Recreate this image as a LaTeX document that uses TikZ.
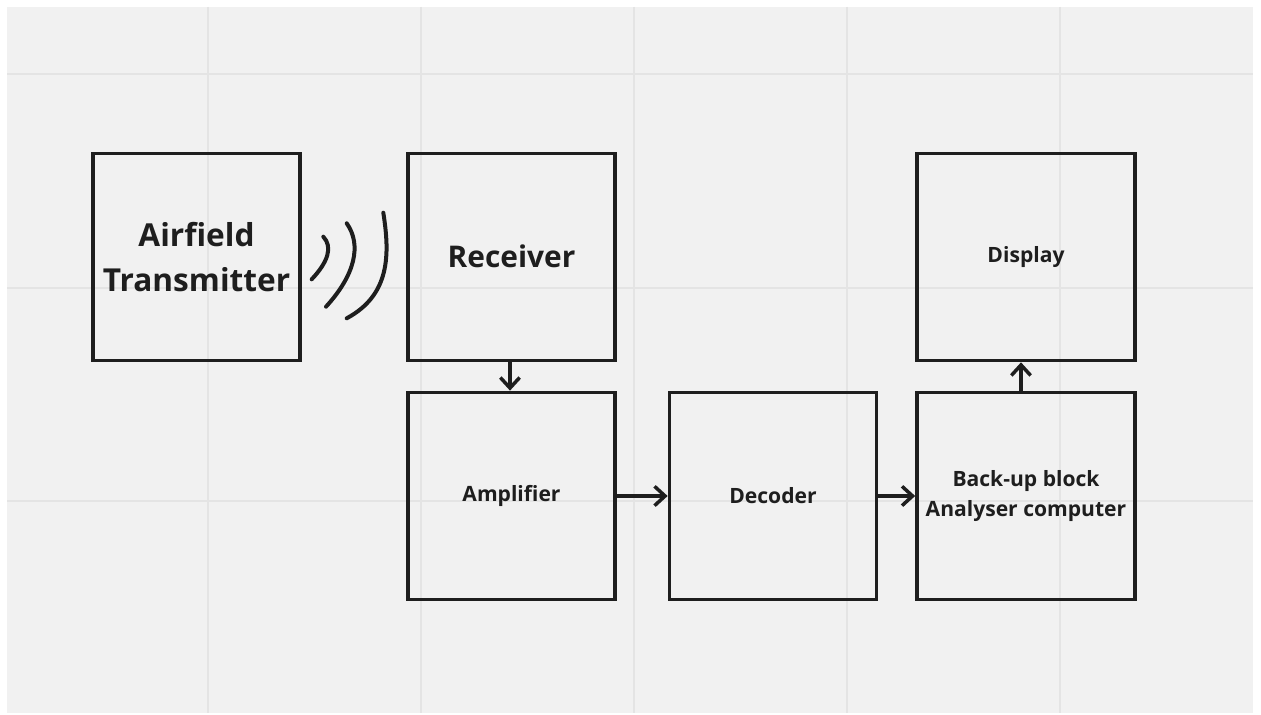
\documentclass[tikz,border=0pt]{standalone}
\usepackage{fontspec}
\setmainfont{Open Sans}
\usetikzlibrary{arrows.meta}
\definecolor{board}{RGB}{241,241,241}
\definecolor{gridline}{RGB}{228,228,228}
\definecolor{ink}{RGB}{30,30,30}

\begin{document}
\begin{tikzpicture}[x=0.02cm, y=-0.02cm]
            \tikzstyle{block} = [draw=ink, line width=0.075cm, minimum width=4.14cm, minimum height=4.14cm, text=ink, align=center, font=\bfseries\fontsize{12}{17}\selectfont]
            \tikzstyle{big block} = [block, font=\bfseries\fontsize{18}{25.5}\selectfont]
            \tikzstyle{wide block} = [block, minimum width=4.36cm]
            \tikzstyle{link} = [draw=ink, line width=0.07cm, -{Straight Barb[length=6pt, width=11pt, line width=0.07cm]}]
            \tikzstyle{wave} = [draw=ink, line width=0.08cm, line cap=round]
            % board and its grid
            \useasboundingbox (0,0) rectangle (1261,715);
            \fill[white] (0,0) rectangle (1261,715);
            \fill[board] (7,7) rectangle (1253,713);
            \foreach \gx in {208,421,634,847,1060}
                \draw[gridline, line width=0.04cm] (\gx,7) -- (\gx,713);
            \foreach \gy in {74,288,501}
                \draw[gridline, line width=0.04cm] (7,\gy) -- (1253,\gy);
            % blocks
            \node[big block] (tx) at (196.5,257) {Airfield\\Transmitter};
            \node[big block, font=\bfseries\fontsize{17}{24}\selectfont] (rx) at (511.5,257) {\raisebox{1.5pt}{Receiver}};
            \node[block] (amp) at (511.5,496) {Amplifier};
            \node[block] (dec) at (773,496) {Decoder};
            \node[wide block] (backup) at (1026,496) {Back-up block\\Analyser computer};
            \node[wide block] (disp) at (1026,257) {Display};
            % radio waves
            \draw[wave] (323.3,236.7) .. controls (333,247) and (328,262) .. (311.7,279.3);
            \draw[wave] (346.7,223.3) .. controls (362,245) and (355,275) .. (326,306.7);
            \draw[wave] (383.3,212.7) .. controls (390,255) and (390,295) .. (346.7,318.3);
            % signal path
            \draw[link] ([xshift=-0.03cm]rx.south) -- ([xshift=-0.03cm]amp.north);
            \draw[link] (amp.east) -- (dec.west);
            \draw[link] (dec.east) -- (backup.west);
            \draw[link] ([xshift=-0.1cm]backup.north) -- ([xshift=-0.1cm]disp.south);
        \end{tikzpicture}
\end{document}
